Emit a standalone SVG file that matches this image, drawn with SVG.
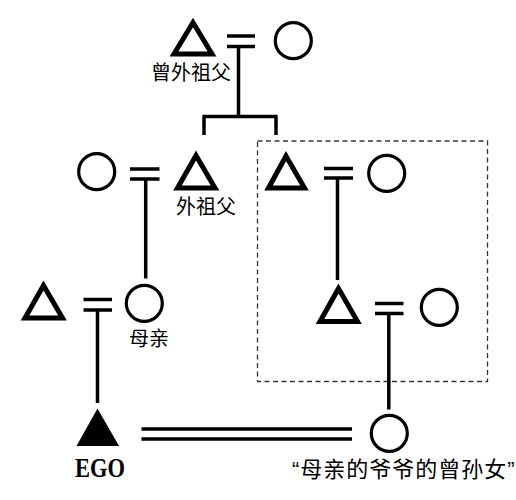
<svg xmlns="http://www.w3.org/2000/svg" width="516" height="500" viewBox="0 0 516 500">
<style>
.tri{fill:none;stroke:#000;stroke-width:5;stroke-linejoin:miter}
.cir{fill:none;stroke:#000;stroke-width:3.2}
.ln{stroke:#000;stroke-width:3.5;fill:none}
.lbl{font-family:"Noto Sans CJK SC","Noto Sans",sans-serif;font-size:20px;fill:#000}
.q{font-family:"Liberation Sans","Noto Sans CJK SC",sans-serif;font-size:22px;letter-spacing:1px;fill:#000}
</style>
<rect width="516" height="500" fill="#fff"/>
<rect id="box" x="257.5" y="141" width="230" height="240.5" fill="none" stroke="#333" stroke-width="1.3" stroke-dasharray="5,3.5"/>
<g id="connectors">
<path class="ln" d="M227 36H255M227 46.5H255"/>
<path class="ln" d="M238.5 46.5V116.5M202.5 116.5H277.5M204 116.5V135M276 116.5V135"/>
<path class="ln" d="M130 169H159.5M130 179H159.5M145.7 179V278.5"/>
<path class="ln" d="M324 168.5H353M324 178H353M337.5 178V280"/>
<path class="ln" d="M375 303.5H403.5M375 313.5H403.5M388.8 313.5V409.5"/>
<path class="ln" d="M83.5 299.5H112M83.5 310H112M97.5 310V403"/>
<path class="ln" d="M141.5 429H352M141.5 439H352"/>
</g>
<g id="n_greatgrandfather"><polygon class="tri" points="193,22.5 174,54 212,54"/><text class="lbl" x="151" y="80">曾外祖父</text></g>
<g id="n_greatgrandmother"><circle class="cir" cx="293.3" cy="40.7" r="18"/></g>
<g id="n_grandmother"><circle class="cir" cx="96.7" cy="171.7" r="18"/></g>
<g id="n_grandfather"><polygon class="tri" points="196,155.5 177.5,188 215,188"/><text class="lbl" x="176" y="214">外祖父</text></g>
<g id="n_sibling_m"><polygon class="tri" points="286,156 268.5,188 304.5,188"/></g>
<g id="n_sibling_f"><circle class="cir" cx="386.7" cy="173.3" r="18"/></g>
<g id="n_father"><polygon class="tri" points="43.5,285.5 25,318 62.5,318"/></g>
<g id="n_mother"><circle class="cir" cx="144.3" cy="303.3" r="18"/><text class="lbl" x="129" y="346">母亲</text></g>
<g id="n_cousin_m"><polygon class="tri" points="338.5,288.5 320,321.5 357.5,321.5"/></g>
<g id="n_cousin_f"><circle class="cir" cx="439.3" cy="307.3" r="18"/></g>
<g id="n_ego"><polygon points="97.5,408.5 76.5,446 119,446" fill="#000"/><text x="75" y="477" font-family="Liberation Serif,serif" font-weight="bold" font-size="27" textLength="50" lengthAdjust="spacingAndGlyphs">EGO</text></g>
<g id="n_target"><circle class="cir" cx="389.3" cy="433.3" r="18"/><text class="q" x="292" y="477">“母亲的爷爷的曾孙女”</text></g>
</svg>
